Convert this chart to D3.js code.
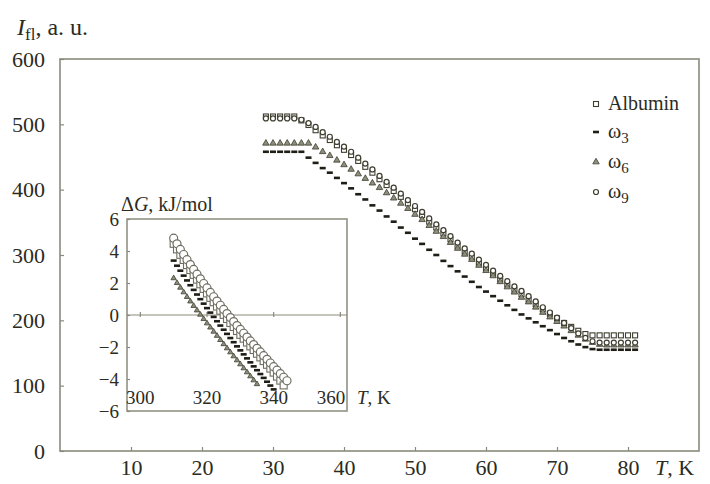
<!DOCTYPE html>
<html>
<head>
<meta charset="utf-8">
<script src="https://cdn.jsdelivr.net/npm/d3@7"></script>
<style>
body { margin: 0; background: #fff; }
text { font-family: "Liberation Serif", "DejaVu Serif", serif; fill: #2b2b22; }
</style>
</head>
<body>
<div id="vis"></div>
<script>
// main chart: fluorescence intensity vs T
var mainT = [29, 30, 31, 32, 33, 34, 35, 36, 37, 38, 39, 40, 41, 42, 43, 44, 45, 46, 47, 48,
             49, 50, 51, 52, 53, 54, 55, 56, 57, 58, 59, 60, 61, 62, 63, 64, 65, 66, 67, 68,
             69, 70, 71, 72, 73, 74, 75, 76, 77, 78, 79, 80, 81];
var albumin = [512, 512, 512, 512, 512, 506, 499, 491, 483, 476, 468, 461, 453, 444, 435, 426, 416, 407, 398, 389,
               379, 370, 361, 351, 342, 333, 324, 314, 305, 297, 288, 280, 271, 263, 255, 247, 240, 232, 225, 217,
               210, 203, 196, 190, 184, 179, 177, 177, 177, 177, 177, 177, 177];
var omega3 = [458, 458, 458, 458, 458, 458, 449, 441, 433, 426, 418, 410, 402, 393, 385, 376, 368, 359, 351, 342,
              334, 325, 317, 308, 300, 291, 283, 275, 267, 259, 251, 244, 237, 230, 223, 216, 209, 203, 197, 191,
              185, 179, 173, 168, 163, 159, 156, 155, 155, 155, 155, 155, 155];
var omega6 = [471, 471, 471, 471, 471, 471, 471, 465, 458, 452, 445, 438, 431, 424, 417, 410, 403, 395, 387, 379,
              371, 362, 354, 345, 336, 328, 319, 310, 301, 293, 284, 276, 268, 259, 251, 243, 235, 228, 220, 212,
              205, 198, 191, 184, 177, 171, 166, 163, 162, 162, 162, 162, 162];
var omega9 = [509, 509, 509, 509, 509, 507, 502, 496, 488, 481, 473, 466, 458, 449, 440, 431, 421, 412, 403, 394,
              384, 375, 366, 356, 347, 338, 329, 319, 310, 302, 293, 285, 276, 268, 260, 252, 245, 237, 229, 220,
              212, 204, 196, 188, 180, 173, 168, 166, 166, 166, 166, 166, 166];

// inset: Gibbs energy vs T
var insetT = [310, 311, 312, 313, 314, 315, 316, 317, 318, 319, 320, 321, 322, 323, 324, 325, 326, 327,
              328, 329, 330, 331, 332, 333, 334, 335, 336, 337, 338, 339, 340, 341, 342, 343, 344];
var gAlbumin = [4.45, 4.1, 3.76, 3.44, 3.12, 2.81, 2.51, 2.21, 1.92, 1.63, 1.35, 1.07, 0.8, 0.53, 0.27, 0.01, -0.25,
                -0.5, -0.75, -1.0, -1.24, -1.48, -1.72, -1.96, -2.19, -2.42, -2.65, -2.88, -3.11, -3.35, -3.6,
                -3.85, -4.1, -4.4];
var gOmega3 = [3.4, 3.08, 2.77, 2.46, 2.16, 1.86, 1.57, 1.28, 0.99, 0.71, 0.43, 0.15, -0.12, -0.39, -0.66, -0.92,
               -1.18, -1.44, -1.7, -1.96, -2.21, -2.46, -2.71, -2.96, -3.21, -3.45, -3.69, -3.93, -4.17, -4.41, -4.65];
var gOmega6 = [2.3, 2.0, 1.71, 1.42, 1.13, 0.85, 0.57, 0.29, 0.02, -0.25, -0.52, -0.78, -1.04, -1.3, -1.56, -1.82,
               -2.08, -2.33, -2.58, -2.83, -3.08, -3.33, -3.58, -3.83, -4.08, -4.32];
var gOmega9 = [4.8, 4.45, 4.1, 3.78, 3.46, 3.15, 2.85, 2.55, 2.26, 1.97, 1.69, 1.41, 1.14, 0.87, 0.61, 0.35, 0.09,
               -0.16, -0.41, -0.66, -0.9, -1.14, -1.38, -1.62, -1.85, -2.08, -2.31, -2.54, -2.77, -3.0, -3.23,
               -3.45, -3.67, -3.89, -4.11];

var seriesNames = ["Albumin", "ω3", "ω6", "ω9"];
var xTicks = [10, 20, 30, 40, 50, 60, 70, 80],
    yTicks = [0, 100, 200, 300, 400, 500, 600],
    insetXTicks = [300, 320, 340, 360],
    insetYTicks = [-6, -4, -2, 0, 2, 4, 6];

var axisCol = "#8a8a7c",
    ink = "#3e3e30",
    triFill = "#8e8e7c";

var svg = d3.select("#vis").append("svg")
    .attr("width", 710)
    .attr("height", 484);

var x = d3.scaleLinear().domain([0, 90]).range([60, 699]),
    y = d3.scaleLinear().domain([0, 600]).range([451, 59]);

svg.append("rect")
    .attr("x", x(0)).attr("y", y(600))
    .attr("width", x(90) - x(0)).attr("height", y(0) - y(600))
    .attr("fill", "none").attr("stroke", axisCol).attr("stroke-width", 1.6);

function styleAxis(g, size) {
  g.select(".domain").remove();
  g.attr("font-family", null).attr("font-size", size);
  g.selectAll("line").attr("stroke", axisCol).attr("stroke-width", 1.2);
  g.selectAll("text").attr("fill", "#2b2b22");
}

svg.append("g")
    .attr("transform", "translate(0," + y(0) + ")")
    .call(d3.axisBottom(x).tickValues(xTicks).tickSize(-4).tickPadding(8))
    .call(styleAxis, 22);

svg.append("g")
    .attr("transform", "translate(" + x(0) + ",0)")
    .call(d3.axisLeft(y).tickValues(yTicks).tickSize(-4).tickPadding(15))
    .call(styleAxis, 22);

// axis titles
var yt = svg.append("text").attr("x", 17).attr("y", 35).attr("font-size", 24);
yt.append("tspan").attr("font-style", "italic").text("I");
yt.append("tspan").attr("font-size", 17).attr("dy", 5).text("fl");
yt.append("tspan").attr("dy", -5).text(", a. u.");

var xt = svg.append("text").attr("x", 655).attr("y", 475).attr("font-size", 22);
xt.append("tspan").attr("font-style", "italic").text("T");
xt.append("tspan").text(", K");

// marker drawing
function drawSeries(g, xs, ys, kind, sx, sy, s, col) {
  var pts = ys.map(function(v, i) { return {t: xs[i], v: v}; });
  var sel = g.append("g").selectAll("x").data(pts).enter();
  col = col || ink;
  if (kind === 0) {
    sel.append("rect")
        .attr("x", function(d) { return sx(d.t) - s / 2; })
        .attr("y", function(d) { return sy(d.v) - s / 2; })
        .attr("width", s).attr("height", s)
        .attr("fill", "#fff").attr("stroke", col).attr("stroke-width", 1.1);
  } else if (kind === 1) {
    sel.append("rect")
        .attr("x", function(d) { return sx(d.t) - s * 0.6; })
        .attr("y", function(d) { return sy(d.v) - 1.3; })
        .attr("width", s * 1.2).attr("height", 2.6)
        .attr("fill", "#1e1e16");
  } else if (kind === 2) {
    sel.append("path")
        .attr("d", d3.symbol().type(d3.symbolTriangle).size(s * s * 0.5))
        .attr("transform", function(d) { return "translate(" + sx(d.t) + "," + sy(d.v) + ")"; })
        .attr("fill", triFill).attr("stroke", ink).attr("stroke-width", 0.8);
  } else {
    sel.append("circle")
        .attr("cx", function(d) { return sx(d.t); })
        .attr("cy", function(d) { return sy(d.v); })
        .attr("r", s / 2)
        .attr("fill", "#fff").attr("stroke", col).attr("stroke-width", 1.2);
  }
}

var main = svg.append("g");
drawSeries(main, mainT, albumin, 0, x, y, 5);
drawSeries(main, mainT, omega3, 1, x, y, 5);
drawSeries(main, mainT, omega6, 2, x, y, 6);
drawSeries(main, mainT, omega9, 3, x, y, 5);

// legend
var legY = [103, 131, 161, 191];
seriesNames.forEach(function(name, i) {
  var lg = svg.append("g");
  drawSeries(lg, [0], [0], i, function() { return 596; }, function() { return legY[i] + 1; }, i === 2 ? 6 : 5);
  var t = svg.append("text").attr("x", 608).attr("y", legY[i] + 7).attr("font-size", 20);
  if (i === 0) t.text(name);
  else {
    t.append("tspan").text(name.charAt(0));
    t.append("tspan").attr("font-size", 15).attr("dy", 5).text(name.slice(1));
  }
});

// inset
var ix = d3.scaleLinear().domain([296, 362]).range([127, 347]),
    iy = d3.scaleLinear().domain([-6, 6]).range([411, 219]);

svg.append("rect")
    .attr("x", ix(296)).attr("y", iy(6))
    .attr("width", ix(362) - ix(296)).attr("height", iy(-6) - iy(6))
    .attr("fill", "#fff").attr("stroke", axisCol).attr("stroke-width", 1.5);

svg.append("g")
    .attr("transform", "translate(" + ix(296) + ",0)")
    .call(d3.axisLeft(iy).tickValues(insetYTicks).tickSize(-3).tickPadding(8))
    .call(styleAxis, 19);

svg.append("line")
    .attr("x1", ix(296)).attr("x2", ix(362))
    .attr("y1", iy(0)).attr("y2", iy(0))
    .attr("stroke", axisCol).attr("stroke-width", 1);

svg.append("g").selectAll("line").data(insetXTicks).enter().append("line")
    .attr("x1", function(d) { return ix(d); }).attr("x2", function(d) { return ix(d); })
    .attr("y1", iy(0) - 3).attr("y2", iy(0) + 2)
    .attr("stroke", axisCol).attr("stroke-width", 1.2);

svg.append("g").selectAll("text").data(insetXTicks).enter().append("text")
    .attr("x", function(d) { return Math.min(ix(d), ix(362) - 16); })
    .attr("y", 404)
    .attr("text-anchor", "middle")
    .attr("font-size", 19)
    .text(function(d) { return d; });

var ixt = svg.append("text").attr("x", 357).attr("y", 404).attr("font-size", 19);
ixt.append("tspan").attr("font-style", "italic").text("T");
ixt.append("tspan").text(", K");

var iyt = svg.append("text").attr("x", 121).attr("y", 211).attr("font-size", 20);
iyt.append("tspan").text("Δ");
iyt.append("tspan").attr("font-style", "italic").text("G");
iyt.append("tspan").text(", kJ/mol");

var inset = svg.append("g");
drawSeries(inset, insetT, gAlbumin, 0, ix, iy, 7, "#6e6e62");
drawSeries(inset, insetT, gOmega3, 1, ix, iy, 5);
drawSeries(inset, insetT, gOmega6, 2, ix, iy, 5);
drawSeries(inset, insetT, gOmega9, 3, ix, iy, 8, "#6e6e62");
</script>
</body>
</html>
